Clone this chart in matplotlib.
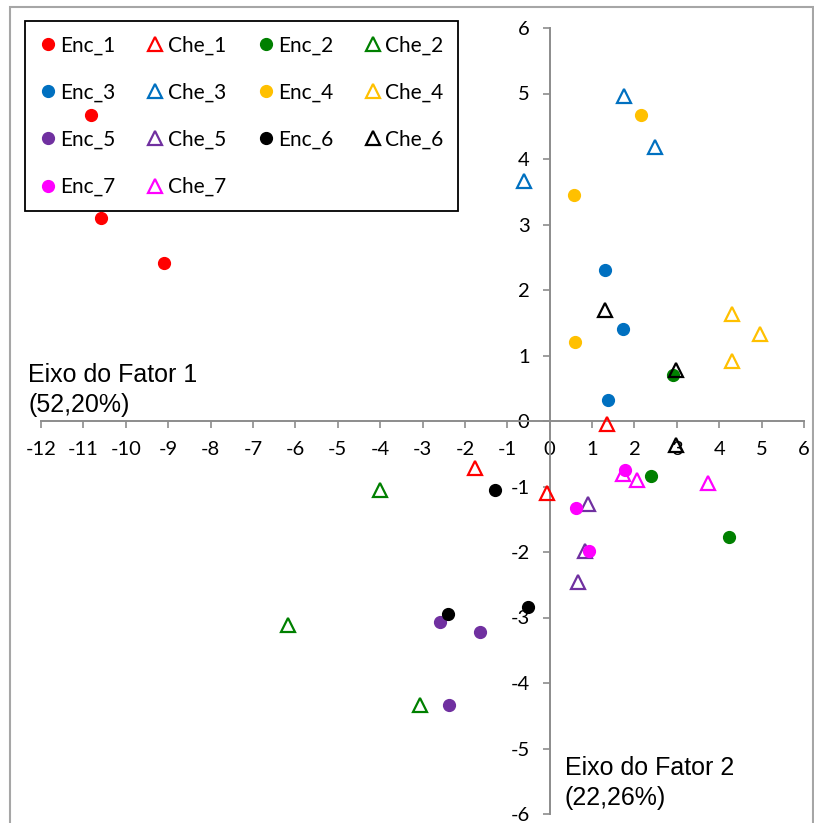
import matplotlib
matplotlib.use("Agg")
import matplotlib.pyplot as plt
from matplotlib.patches import Rectangle

plt.rcParams["axes.unicode_minus"] = False

# factor scores (x = factor 1, y = factor 2)
enc1_x = [-10.81, -10.58, -9.09]
enc1_y = [4.67, 3.10, 2.41]
che1_x = [-1.76, -0.06, 1.36]
che1_y = [-0.72, -1.10, -0.05]

enc2_x = [2.91, 2.39, 4.23]
enc2_y = [0.70, -0.84, -1.77]
che2_x = [-4.00, -6.17, -3.05]
che2_y = [-1.05, -3.11, -4.34]

enc3_x = [1.31, 1.73, 1.38]
enc3_y = [2.31, 1.40, 0.32]
che3_x = [1.76, 2.49, -0.60]
che3_y = [4.96, 4.18, 3.66]

enc4_x = [2.16, 0.58, 0.60]
enc4_y = [4.67, 3.45, 1.21]
che4_x = [4.30, 4.96, 4.30]
che4_y = [1.63, 1.33, 0.92]

enc5_x = [-2.58, -1.64, -2.37]
enc5_y = [-3.07, -3.22, -4.34]
che5_x = [0.91, 0.84, 0.67]
che5_y = [-1.27, -1.98, -2.46]

enc6_x = [-1.29, -2.39, -0.51]
enc6_y = [-1.05, -2.95, -2.84]
che6_x = [1.31, 2.98, 2.98]
che6_y = [1.69, 0.78, -0.37]

enc7_x = [1.78, 0.63, 0.93]
enc7_y = [-0.75, -1.33, -1.98]
che7_x = [1.73, 2.06, 3.74]
che7_y = [-0.81, -0.90, -0.95]

colors = ["#ff0000", "#008000", "#0070c0", "#ffc000", "#7030a0", "#000000", "#ff00ff"]
enc = [(enc1_x, enc1_y), (enc2_x, enc2_y), (enc3_x, enc3_y), (enc4_x, enc4_y),
       (enc5_x, enc5_y), (enc6_x, enc6_y), (enc7_x, enc7_y)]
che = [(che1_x, che1_y), (che2_x, che2_y), (che3_x, che3_y), (che4_x, che4_y),
       (che5_x, che5_y), (che6_x, che6_y), (che7_x, che7_y)]

W, H = 814, 823
fig = plt.figure(figsize=(W / 100, H / 100), dpi=100)
ax = fig.add_axes([41 / W, 1 - 814 / H, (804 - 41) / W, (814 - 28) / H])

enc_h, che_h = [], []
for i in range(7):
    h1, = ax.plot(enc[i][0], enc[i][1], "o", color=colors[i], ms=8.5,
                  mec=colors[i], label="Enc_%d" % (i + 1), clip_on=False, zorder=4)
    h2, = ax.plot(che[i][0], che[i][1], "^", color=colors[i], ms=10.5,
                  mfc="none", mew=1.6, label="Che_%d" % (i + 1), clip_on=False, zorder=4)
    enc_h.append(h1)
    che_h.append(h2)

ax.set_xlim(-12, 6)
ax.set_ylim(-6, 6)
ax.set_xticks(range(-12, 7))
ax.set_yticks(range(-6, 7))

ax.spines["left"].set_position(("data", 0))
ax.spines["bottom"].set_position(("data", 0))
ax.spines["top"].set_visible(False)
ax.spines["right"].set_visible(False)
for s in ("left", "bottom"):
    ax.spines[s].set_color("#8c8c8c")
    ax.spines[s].set_linewidth(1.4)
ax.tick_params(direction="out", length=5, width=1.2, color="#8c8c8c",
               labelsize=14.5, pad=9.5)
for lab in ax.get_xticklabels() + ax.get_yticklabels():
    lab.set_family("Lato")

# legend order so that rows read Enc_1 Che_1 Enc_2 Che_2 ...
order = [enc_h[0], enc_h[2], enc_h[4], enc_h[6],
         che_h[0], che_h[2], che_h[4], che_h[6],
         enc_h[1], enc_h[3], enc_h[5],
         che_h[1], che_h[3], che_h[5]]
leg = ax.legend(handles=order, ncol=4, loc="upper left",
                bbox_to_anchor=(25 / W, 1 - 21 / H), bbox_transform=fig.transFigure,
                borderaxespad=0, fancybox=False, framealpha=1, edgecolor="black",
                prop={"family": "Lato", "size": 15}, handlelength=0.8,
                handletextpad=0.2, columnspacing=1.5, labelspacing=1.3,
                borderpad=0.7)
leg.get_frame().set_linewidth(1.3)
leg.set_zorder(2)

fig.text(28 / W, 1 - 382 / H, "Eixo do Fator 1", family="Liberation Sans",
         fontsize=18, va="baseline")
fig.text(28 / W, 1 - 412 / H, "(52,20%)", family="Liberation Sans",
         fontsize=18, va="baseline")
fig.text(565 / W, 1 - 775 / H, "Eixo do Fator 2", family="Liberation Sans",
         fontsize=18, va="baseline")
fig.text(565 / W, 1 - 805 / H, "(22,26%)", family="Liberation Sans",
         fontsize=18, va="baseline")

# outer chart border
fig.patches.append(Rectangle((10 / W, -0.05), (813 - 10) / W, 1 - 7 / H + 0.05,
                             transform=fig.transFigure, fill=False,
                             edgecolor="#a6a6a6", lw=1.5))

fig.savefig("out.png", dpi=100)
